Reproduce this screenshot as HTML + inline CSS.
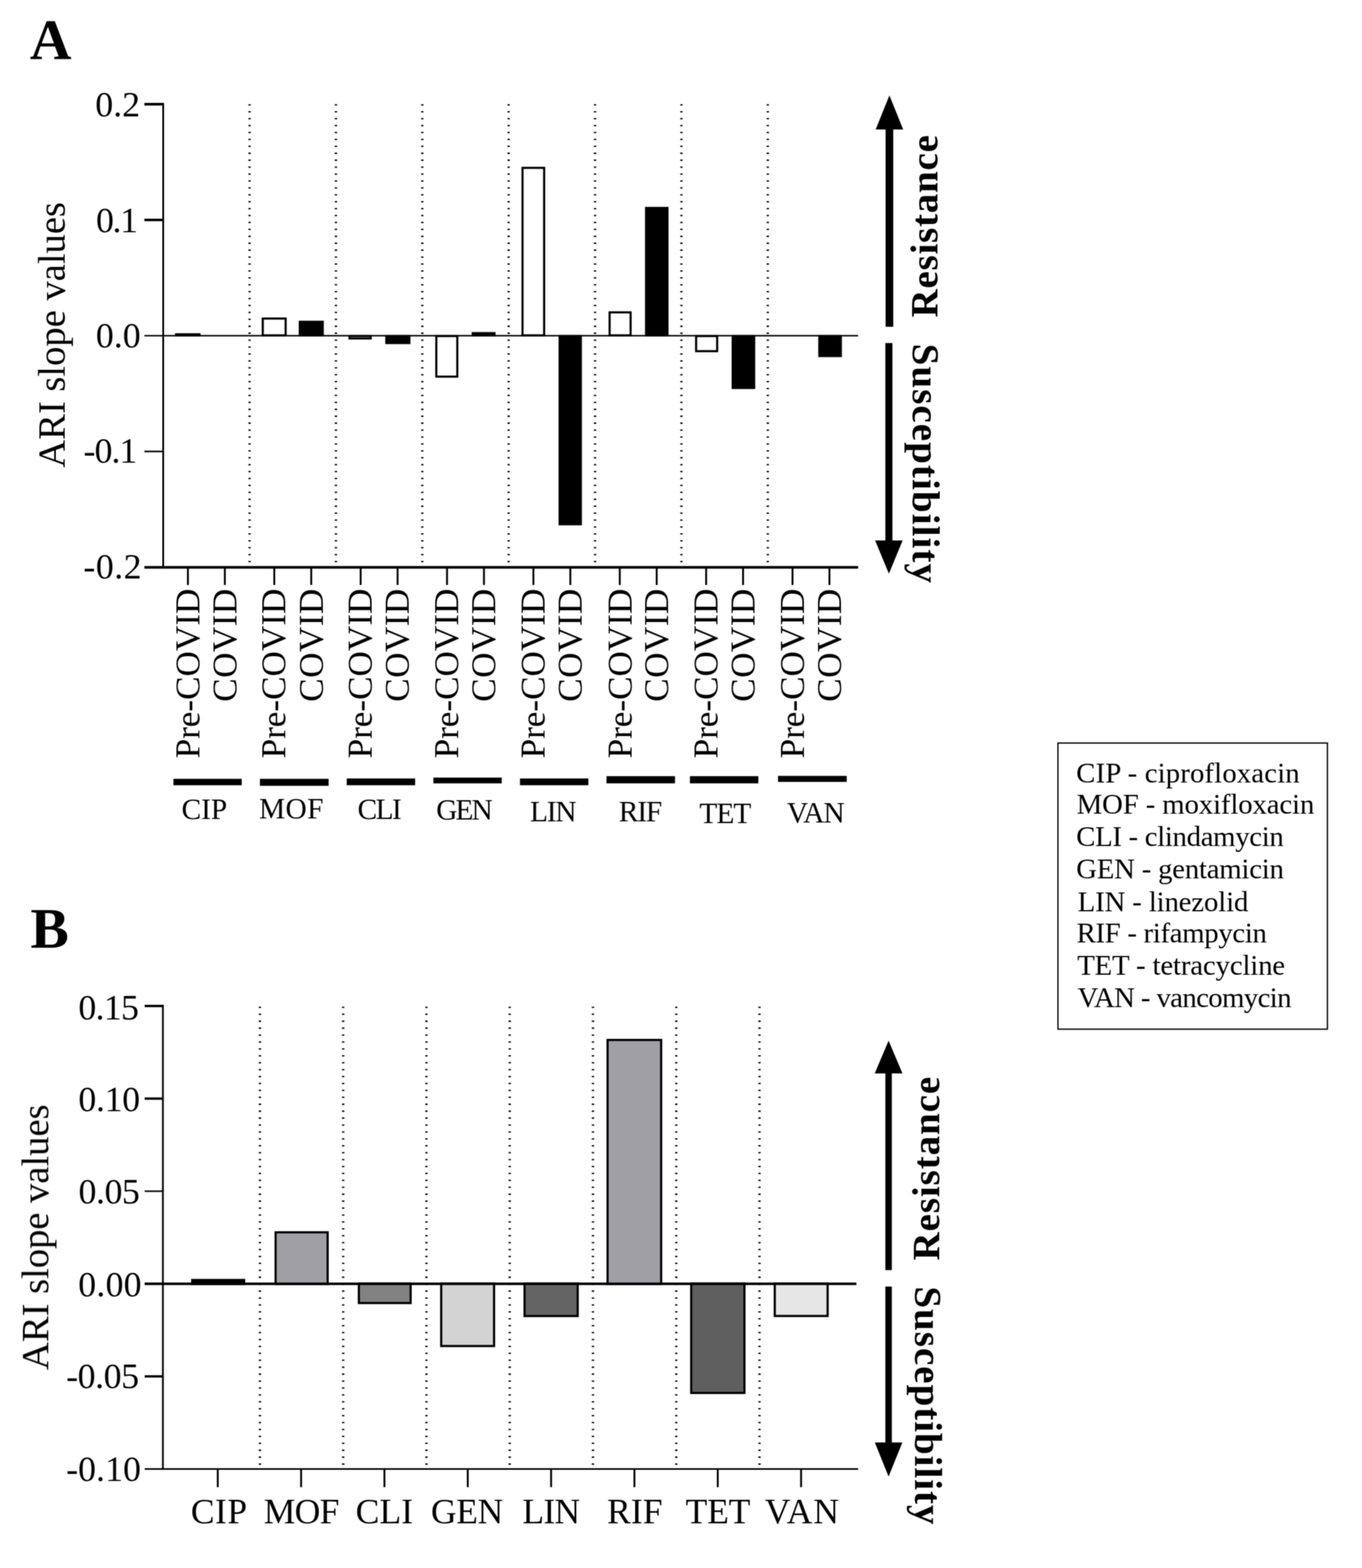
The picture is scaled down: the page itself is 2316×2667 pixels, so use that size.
<!DOCTYPE html>
<html><head><meta charset="utf-8"><title>ARI slope values</title>
<style>
html,body{margin:0;padding:0;background:#fff;}
body{width:2316px;height:2667px;overflow:hidden;}
svg{display:block;}
text{font-family:'Liberation Serif', 'Times New Roman', Times, serif;fill:#000;}
</style></head>
<body>
<svg width="2316" height="2667" viewBox="0 0 2316 2667">
<defs><filter id="soft" x="0" y="0" width="2316" height="2667" filterUnits="userSpaceOnUse" color-interpolation-filters="sRGB"><feConvolveMatrix order="3" kernelMatrix="1 2 1 2 4 2 1 2 1" divisor="16" edgeMode="duplicate" preserveAlpha="false"/></filter></defs>
<rect width="2316" height="2667" fill="#fff"/>
<g filter="url(#soft)">
<line x1="245.50" y1="177.25" x2="277.50" y2="177.25" stroke="#000" stroke-width="4.4" />
<line x1="245.50" y1="374.12" x2="277.50" y2="374.12" stroke="#000" stroke-width="4.4" />
<line x1="245.50" y1="571.00" x2="277.50" y2="571.00" stroke="#000" stroke-width="2.6" />
<line x1="245.50" y1="767.88" x2="277.50" y2="767.88" stroke="#000" stroke-width="2.6" />
<line x1="277.50" y1="175.05" x2="277.50" y2="966.95" stroke="#000" stroke-width="3" />
<line x1="424.37" y1="177.20" x2="424.37" y2="962.50" stroke="#000" stroke-width="4.0" stroke-dasharray="2.3 9.47"/>
<line x1="571.24" y1="177.20" x2="571.24" y2="962.50" stroke="#000" stroke-width="4.0" stroke-dasharray="2.3 9.47"/>
<line x1="718.11" y1="177.20" x2="718.11" y2="962.50" stroke="#000" stroke-width="4.0" stroke-dasharray="2.3 9.47"/>
<line x1="864.98" y1="177.20" x2="864.98" y2="962.50" stroke="#000" stroke-width="4.0" stroke-dasharray="2.3 9.47"/>
<line x1="1011.85" y1="177.20" x2="1011.85" y2="962.50" stroke="#000" stroke-width="4.0" stroke-dasharray="2.3 9.47"/>
<line x1="1158.72" y1="177.20" x2="1158.72" y2="962.50" stroke="#000" stroke-width="4.0" stroke-dasharray="2.3 9.47"/>
<line x1="1305.59" y1="177.20" x2="1305.59" y2="962.50" stroke="#000" stroke-width="4.0" stroke-dasharray="2.3 9.47"/>
<rect x="297.60" y="566.80" width="43.40" height="5.40" fill="#000"/>
<rect x="445.00" y="540.00" width="42.50" height="32.20" fill="#000"/>
<rect x="448.60" y="543.60" width="35.30" height="25.00" fill="#fff"/>
<rect x="508.00" y="545.50" width="42.60" height="26.70" fill="#000"/>
<rect x="511.60" y="549.10" width="35.40" height="19.50" fill="#000"/>
<rect x="592.50" y="569.80" width="39.70" height="7.70" fill="#000"/>
<rect x="596.10" y="573.40" width="32.50" height="0.50" fill="#fff"/>
<rect x="655.10" y="569.80" width="42.80" height="15.50" fill="#000"/>
<rect x="658.70" y="573.40" width="35.60" height="8.30" fill="#000"/>
<rect x="740.10" y="569.80" width="39.30" height="72.60" fill="#000"/>
<rect x="743.70" y="573.40" width="32.10" height="65.40" fill="#fff"/>
<rect x="802.10" y="564.80" width="40.60" height="7.40" fill="#000"/>
<rect x="805.70" y="568.40" width="33.40" height="0.20" fill="#000"/>
<rect x="886.70" y="283.70" width="40.40" height="288.50" fill="#000"/>
<rect x="890.30" y="287.30" width="33.20" height="281.30" fill="#fff"/>
<rect x="949.80" y="569.80" width="39.70" height="323.70" fill="#000"/>
<rect x="953.40" y="573.40" width="32.50" height="316.50" fill="#000"/>
<rect x="1034.80" y="529.50" width="39.30" height="42.70" fill="#000"/>
<rect x="1038.40" y="533.10" width="32.10" height="35.50" fill="#fff"/>
<rect x="1096.80" y="351.90" width="40.00" height="220.30" fill="#000"/>
<rect x="1100.40" y="355.50" width="32.80" height="213.10" fill="#000"/>
<rect x="1181.90" y="569.80" width="39.40" height="29.30" fill="#000"/>
<rect x="1185.50" y="573.40" width="32.20" height="22.10" fill="#fff"/>
<rect x="1244.10" y="569.80" width="40.10" height="91.90" fill="#000"/>
<rect x="1247.70" y="573.40" width="32.90" height="84.70" fill="#000"/>
<rect x="1391.40" y="569.80" width="40.20" height="37.60" fill="#000"/>
<rect x="1395.00" y="573.40" width="33.00" height="30.40" fill="#000"/>
<line x1="277.50" y1="571.00" x2="1459.20" y2="571.00" stroke="#000" stroke-width="2.4" />
<line x1="245.50" y1="965.00" x2="1459.20" y2="965.00" stroke="#000" stroke-width="4.4" />
<line x1="319.54" y1="965.00" x2="319.54" y2="995.00" stroke="#000" stroke-width="3.2" />
<line x1="382.33" y1="965.00" x2="382.33" y2="995.00" stroke="#000" stroke-width="3.2" />
<line x1="466.41" y1="965.00" x2="466.41" y2="995.00" stroke="#000" stroke-width="3.2" />
<line x1="529.21" y1="965.00" x2="529.21" y2="995.00" stroke="#000" stroke-width="3.2" />
<line x1="613.27" y1="965.00" x2="613.27" y2="995.00" stroke="#000" stroke-width="3.2" />
<line x1="676.07" y1="965.00" x2="676.07" y2="995.00" stroke="#000" stroke-width="3.2" />
<line x1="760.15" y1="965.00" x2="760.15" y2="995.00" stroke="#000" stroke-width="3.2" />
<line x1="822.95" y1="965.00" x2="822.95" y2="995.00" stroke="#000" stroke-width="3.2" />
<line x1="907.01" y1="965.00" x2="907.01" y2="995.00" stroke="#000" stroke-width="3.2" />
<line x1="969.81" y1="965.00" x2="969.81" y2="995.00" stroke="#000" stroke-width="3.2" />
<line x1="1053.88" y1="965.00" x2="1053.88" y2="995.00" stroke="#000" stroke-width="3.2" />
<line x1="1116.69" y1="965.00" x2="1116.69" y2="995.00" stroke="#000" stroke-width="3.2" />
<line x1="1200.75" y1="965.00" x2="1200.75" y2="995.00" stroke="#000" stroke-width="3.2" />
<line x1="1263.56" y1="965.00" x2="1263.56" y2="995.00" stroke="#000" stroke-width="3.2" />
<line x1="1347.62" y1="965.00" x2="1347.62" y2="995.00" stroke="#000" stroke-width="3.2" />
<line x1="1410.43" y1="965.00" x2="1410.43" y2="995.00" stroke="#000" stroke-width="3.2" />
<rect x="294.90" y="1324.70" width="116.20" height="10.90" fill="#000"/>
<rect x="442.00" y="1324.70" width="116.80" height="11.90" fill="#000"/>
<rect x="589.60" y="1324.10" width="116.30" height="11.50" fill="#000"/>
<rect x="736.90" y="1322.60" width="116.30" height="9.80" fill="#000"/>
<rect x="884.20" y="1324.10" width="116.30" height="11.50" fill="#000"/>
<rect x="1031.30" y="1320.20" width="116.50" height="12.20" fill="#000"/>
<rect x="1173.20" y="1320.20" width="116.30" height="12.20" fill="#000"/>
<rect x="1323.00" y="1319.70" width="116.80" height="10.20" fill="#000"/>
<polygon points="1512.40,162.30 1489.00,220.30 1535.80,220.30" fill="#000"/>
<rect x="1505.90" y="219.30" width="13.00" height="336.50" fill="#000"/>
<polygon points="1511.50,975.80 1488.10,919.30 1534.90,919.30" fill="#000"/>
<rect x="1505.50" y="583.50" width="12.00" height="336.80" fill="#000"/>
<rect x="1799.0" y="1263.8" width="458.2" height="486.7" fill="none" stroke="#000" stroke-width="2.2"/>
<line x1="246.00" y1="1711.10" x2="277.00" y2="1711.10" stroke="#000" stroke-width="4.0" />
<line x1="246.00" y1="1868.60" x2="277.00" y2="1868.60" stroke="#000" stroke-width="4.0" />
<line x1="246.00" y1="2026.10" x2="277.00" y2="2026.10" stroke="#000" stroke-width="2.6" />
<line x1="246.00" y1="2183.60" x2="277.00" y2="2183.60" stroke="#000" stroke-width="4.4" />
<line x1="246.00" y1="2341.10" x2="277.00" y2="2341.10" stroke="#000" stroke-width="4.0" />
<line x1="277.00" y1="1709.10" x2="277.00" y2="2499.90" stroke="#000" stroke-width="3" />
<line x1="442.00" y1="1712.30" x2="442.00" y2="2496.00" stroke="#000" stroke-width="4.0" stroke-dasharray="2.3 9.47"/>
<line x1="583.58" y1="1712.30" x2="583.58" y2="2496.00" stroke="#000" stroke-width="4.0" stroke-dasharray="2.3 9.47"/>
<line x1="725.16" y1="1712.30" x2="725.16" y2="2496.00" stroke="#000" stroke-width="4.0" stroke-dasharray="2.3 9.47"/>
<line x1="866.74" y1="1712.30" x2="866.74" y2="2496.00" stroke="#000" stroke-width="4.0" stroke-dasharray="2.3 9.47"/>
<line x1="1008.32" y1="1712.30" x2="1008.32" y2="2496.00" stroke="#000" stroke-width="4.0" stroke-dasharray="2.3 9.47"/>
<line x1="1149.90" y1="1712.30" x2="1149.90" y2="2496.00" stroke="#000" stroke-width="4.0" stroke-dasharray="2.3 9.47"/>
<line x1="1291.48" y1="1712.30" x2="1291.48" y2="2496.00" stroke="#000" stroke-width="4.0" stroke-dasharray="2.3 9.47"/>
<rect x="325.00" y="2175.30" width="92.00" height="10.50" fill="#000"/>
<rect x="328.70" y="2179.00" width="84.60" height="3.10" fill="#000"/>
<rect x="466.80" y="2094.20" width="92.20" height="91.60" fill="#000"/>
<rect x="470.50" y="2097.90" width="84.80" height="84.20" fill="#a09fa4"/>
<rect x="608.40" y="2181.40" width="91.70" height="36.80" fill="#000"/>
<rect x="612.10" y="2185.10" width="84.30" height="29.40" fill="#828282"/>
<rect x="748.40" y="2181.40" width="93.60" height="109.90" fill="#000"/>
<rect x="752.10" y="2185.10" width="86.20" height="102.50" fill="#d3d3d3"/>
<rect x="890.10" y="2181.40" width="94.10" height="58.90" fill="#000"/>
<rect x="893.80" y="2185.10" width="86.70" height="51.50" fill="#646464"/>
<rect x="1031.30" y="1767.00" width="94.80" height="418.80" fill="#000"/>
<rect x="1035.00" y="1770.70" width="87.40" height="411.40" fill="#a09fa4"/>
<rect x="1173.50" y="2181.40" width="94.20" height="189.70" fill="#000"/>
<rect x="1177.20" y="2185.10" width="86.80" height="182.30" fill="#5f5f5f"/>
<rect x="1315.60" y="2181.40" width="93.60" height="58.80" fill="#000"/>
<rect x="1319.30" y="2185.10" width="86.20" height="51.40" fill="#e6e6e6"/>
<line x1="277.00" y1="2183.60" x2="1456.30" y2="2183.60" stroke="#000" stroke-width="4.4" />
<line x1="246.00" y1="2498.60" x2="1459.20" y2="2498.60" stroke="#000" stroke-width="2.8" />
<line x1="370.30" y1="2498.60" x2="370.30" y2="2529.50" stroke="#000" stroke-width="3.2" />
<line x1="512.00" y1="2498.60" x2="512.00" y2="2529.50" stroke="#000" stroke-width="3.2" />
<line x1="653.70" y1="2498.60" x2="653.70" y2="2529.50" stroke="#000" stroke-width="3.2" />
<line x1="795.40" y1="2498.60" x2="795.40" y2="2529.50" stroke="#000" stroke-width="3.2" />
<line x1="937.10" y1="2498.60" x2="937.10" y2="2529.50" stroke="#000" stroke-width="3.2" />
<line x1="1078.80" y1="2498.60" x2="1078.80" y2="2529.50" stroke="#000" stroke-width="3.2" />
<line x1="1220.50" y1="2498.60" x2="1220.50" y2="2529.50" stroke="#000" stroke-width="3.2" />
<line x1="1362.20" y1="2498.60" x2="1362.20" y2="2529.50" stroke="#000" stroke-width="3.2" />
<polygon points="1511.00,1770.10 1487.40,1825.80 1534.60,1825.80" fill="#000"/>
<rect x="1505.50" y="1824.80" width="11.00" height="335.50" fill="#000"/>
<polygon points="1511.00,2511.40 1487.60,2453.60 1534.40,2453.60" fill="#000"/>
<rect x="1505.50" y="2188.30" width="11.00" height="266.30" fill="#000"/>
<text x="50.75" y="100.30" font-size="98.00" font-weight="bold">A</text>
<text x="51.75" y="1611.85" font-size="98.00" font-weight="bold">B</text>
<text x="162.00" y="198.15" font-size="61.00" textLength="76.25" lengthAdjust="spacing">0.2</text>
<text x="163.20" y="394.55" font-size="61.00" textLength="71.45" lengthAdjust="spacing">0.1</text>
<text x="163.00" y="591.25" font-size="61.00" textLength="76.35" lengthAdjust="spacing">0.0</text>
<text x="142.00" y="787.15" font-size="61.00" textLength="91.48" lengthAdjust="spacing">-0.1</text>
<text x="141.80" y="983.60" font-size="61.00" textLength="98.98" lengthAdjust="spacing">-0.2</text>
<text x="133.20" y="1733.85" font-size="61.00" textLength="103.15" lengthAdjust="spacing">0.15</text>
<text x="133.20" y="1889.65" font-size="61.00" textLength="105.15" lengthAdjust="spacing">0.10</text>
<text x="133.60" y="2046.60" font-size="61.00" textLength="104.25" lengthAdjust="spacing">0.05</text>
<text x="133.00" y="2204.70" font-size="61.00" textLength="107.75" lengthAdjust="spacing">0.00</text>
<text x="112.40" y="2361.40" font-size="61.00" textLength="124.18" lengthAdjust="spacing">-0.05</text>
<text x="112.40" y="2518.80" font-size="61.00" textLength="127.28" lengthAdjust="spacing">-0.10</text>
<text transform="translate(109.80,795.70) rotate(-90)" font-size="66.00" textLength="452.19" lengthAdjust="spacing">ARI slope values</text>
<text transform="translate(82.00,2330.40) rotate(-90)" font-size="66.00" textLength="451.99" lengthAdjust="spacing">ARI slope values</text>
<text transform="translate(1594.10,540.00) rotate(-90)" font-size="66.50" font-weight="bold" textLength="310.39" lengthAdjust="spacing">Resistance</text>
<text transform="translate(1597.00,2144.00) rotate(-90)" font-size="66.50" font-weight="bold" textLength="312.49" lengthAdjust="spacing">Resistance</text>
<text transform="translate(1552.40,584.40) rotate(90)" font-size="66.50" font-weight="bold" textLength="407.30" lengthAdjust="spacing">Susceptibility</text>
<text transform="translate(1556.30,2188.00) rotate(90)" font-size="66.50" font-weight="bold" textLength="405.10" lengthAdjust="spacing">Susceptibility</text>
<text transform="translate(338.52,1290.00) rotate(-90)" font-size="60.00" textLength="288.95" lengthAdjust="spacing">Pre-COVID</text>
<text transform="translate(401.71,1193.70) rotate(-90)" font-size="60.00" textLength="192.40" lengthAdjust="spacing">COVID</text>
<text transform="translate(485.35,1290.00) rotate(-90)" font-size="60.00" textLength="288.95" lengthAdjust="spacing">Pre-COVID</text>
<text transform="translate(548.54,1193.70) rotate(-90)" font-size="60.00" textLength="192.40" lengthAdjust="spacing">COVID</text>
<text transform="translate(632.17,1290.00) rotate(-90)" font-size="60.00" textLength="288.95" lengthAdjust="spacing">Pre-COVID</text>
<text transform="translate(695.37,1193.70) rotate(-90)" font-size="60.00" textLength="192.40" lengthAdjust="spacing">COVID</text>
<text transform="translate(779.01,1290.00) rotate(-90)" font-size="60.00" textLength="288.95" lengthAdjust="spacing">Pre-COVID</text>
<text transform="translate(842.21,1193.70) rotate(-90)" font-size="60.00" textLength="192.40" lengthAdjust="spacing">COVID</text>
<text transform="translate(925.83,1290.00) rotate(-90)" font-size="60.00" textLength="288.95" lengthAdjust="spacing">Pre-COVID</text>
<text transform="translate(989.03,1193.70) rotate(-90)" font-size="60.00" textLength="192.40" lengthAdjust="spacing">COVID</text>
<text transform="translate(1073.66,1290.00) rotate(-90)" font-size="60.00" textLength="288.95" lengthAdjust="spacing">Pre-COVID</text>
<text transform="translate(1135.87,1193.70) rotate(-90)" font-size="60.00" textLength="192.40" lengthAdjust="spacing">COVID</text>
<text transform="translate(1220.49,1290.00) rotate(-90)" font-size="60.00" textLength="288.95" lengthAdjust="spacing">Pre-COVID</text>
<text transform="translate(1282.70,1193.70) rotate(-90)" font-size="60.00" textLength="192.40" lengthAdjust="spacing">COVID</text>
<text transform="translate(1367.32,1290.00) rotate(-90)" font-size="60.00" textLength="288.95" lengthAdjust="spacing">Pre-COVID</text>
<text transform="translate(1429.53,1193.70) rotate(-90)" font-size="60.00" textLength="192.40" lengthAdjust="spacing">COVID</text>
<text x="308.80" y="1393.00" font-size="50.00" textLength="77.61" lengthAdjust="spacing">CIP</text>
<text x="440.40" y="1391.60" font-size="50.00" textLength="109.57" lengthAdjust="spacing">MOF</text>
<text x="608.00" y="1393.00" font-size="50.00" textLength="75.15" lengthAdjust="spacing">CLI</text>
<text x="741.70" y="1393.70" font-size="50.00" textLength="96.17" lengthAdjust="spacing">GEN</text>
<text x="901.30" y="1396.50" font-size="50.00" textLength="79.11" lengthAdjust="spacing">LIN</text>
<text x="1052.30" y="1396.50" font-size="50.00" textLength="73.81" lengthAdjust="spacing">RIF</text>
<text x="1189.30" y="1399.50" font-size="50.00" textLength="88.24" lengthAdjust="spacing">TET</text>
<text x="1338.00" y="1398.50" font-size="50.00" textLength="98.29" lengthAdjust="spacing">VAN</text>
<text x="324.60" y="2591.45" font-size="60.50" textLength="95.46" lengthAdjust="spacing">CIP</text>
<text x="448.40" y="2591.45" font-size="60.50" textLength="128.64" lengthAdjust="spacing">MOF</text>
<text x="604.80" y="2591.45" font-size="60.50" textLength="97.57" lengthAdjust="spacing">CLI</text>
<text x="732.80" y="2591.45" font-size="60.50" textLength="122.94" lengthAdjust="spacing">GEN</text>
<text x="888.20" y="2591.45" font-size="60.50" textLength="98.30" lengthAdjust="spacing">LIN</text>
<text x="1032.20" y="2591.45" font-size="60.50" textLength="94.36" lengthAdjust="spacing">RIF</text>
<text x="1165.80" y="2591.45" font-size="60.50" textLength="110.17" lengthAdjust="spacing">TET</text>
<text x="1300.60" y="2590.95" font-size="60.50" textLength="125.98" lengthAdjust="spacing">VAN</text>
<text x="1830.10" y="1330.80" font-size="49.00" textLength="379.88" lengthAdjust="spacing">CIP - ciprofloxacin</text>
<text x="1830.70" y="1384.30" font-size="49.00" textLength="404.30" lengthAdjust="spacing">MOF - moxifloxacin</text>
<text x="1830.10" y="1439.30" font-size="49.00" textLength="352.95" lengthAdjust="spacing">CLI - clindamycin</text>
<text x="1830.10" y="1493.90" font-size="49.00" textLength="353.23" lengthAdjust="spacing">GEN - gentamicin</text>
<text x="1832.50" y="1549.60" font-size="49.00" textLength="290.31" lengthAdjust="spacing">LIN - linezolid</text>
<text x="1830.70" y="1603.10" font-size="49.00" textLength="323.65" lengthAdjust="spacing">RIF - rifampycin</text>
<text x="1831.70" y="1657.70" font-size="49.00" textLength="353.65" lengthAdjust="spacing">TET - tetracycline</text>
<text x="1832.20" y="1713.40" font-size="49.00" textLength="363.94" lengthAdjust="spacing">VAN - vancomycin</text>
</g>
</svg>
</body></html>
